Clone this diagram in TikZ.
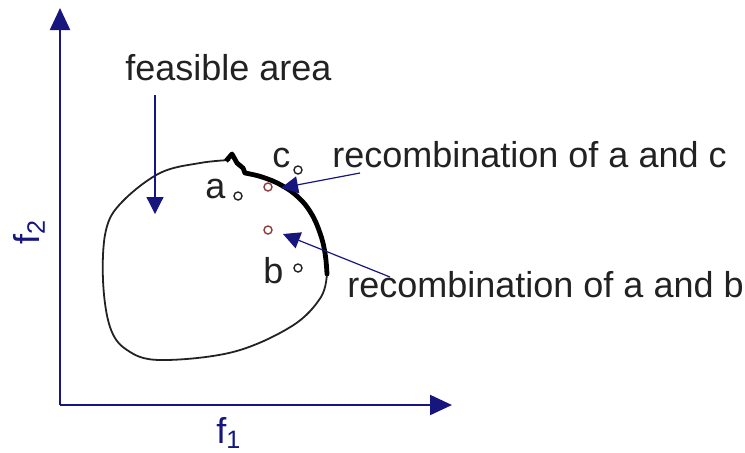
\documentclass[tikz,border=0pt]{standalone}
\usepackage{fontspec}
\setmainfont{Liberation Sans}
\usepackage{xcolor}
\usepackage{tikz}
\usetikzlibrary{arrows.meta,positioning,calc}
\definecolor{axisblue}{HTML}{16167E}
\definecolor{textgrey}{HTML}{222222}
\definecolor{dotred}{HTML}{8E3B3B}

\begin{document}
\begin{tikzpicture}[x=0.5pt,y=-0.5pt,
  lbl/.style={anchor=base west, inner sep=0pt, text=textgrey, font=\fontsize{18}{20}\selectfont},
  sol/.style={circle, draw=textgrey, line width=0.7pt, fill=white, minimum size=4pt, inner sep=0pt},
  rec/.style={circle, draw=dotred, line width=0.7pt, fill=white, minimum size=4pt, inner sep=0pt},
  ptr/.style={axisblue, line width=0.6pt, -{Triangle[width=8.5pt,length=8.5pt]}}]
\useasboundingbox (0,0) rectangle (745,452);
% Axes
\coordinate (origin) at (60,405);
\coordinate (ytip) at (60,8);
\coordinate (xtip) at (452,405);
\draw[axisblue, line width=1.1pt, -{Triangle[width=10pt,length=11pt]}] (origin) -- (ytip);
\draw[axisblue, line width=1.1pt, -{Triangle[width=10pt,length=11pt]}] (origin) -- (xtip);
\node[axisblue, font=\fontsize{18}{20}\selectfont] (fone) at (229,433) {f\textsubscript{1}};
\node[axisblue, font=\fontsize{18}{20}\selectfont, rotate=90] (ftwo) at (29,232) {f\textsubscript{2}};
% Feasible area
\draw[textgrey, line width=0.9pt] plot[smooth, tension=0.6] coordinates {(327,272) (321,297) (292,326) (233,352) (160,360) (127,350) (110,327) (103,280) (106,230) (122,202) (160,173) (200,163) (230,160)};
% Pareto front (bold)
\draw[black, line width=2.4pt, line join=round] (226,161) -- (232,154) -- (237,163) -- (243,168) -- (245,173);
\draw[black, line width=2.4pt, line cap=round] plot[smooth, tension=0.7] coordinates {(245,173) (262,177) (281,185) (298,197) (311,213) (320,233) (325,253) (327,274)};
% Solutions
\node[sol] (pa) at (238,196) {};
\node[sol] (pb) at (298,268) {};
\node[sol] (pc) at (298,170) {};
\node[lbl] (la) at (205,198) {a};
\node[lbl] (lb) at (263,283) {b};
\node[lbl] (lc) at (272,167) {c};
% Offspring
\node[rec] (rac) at (268,187) {};
\node[rec] (rab) at (268,230) {};
% Labels
\node[lbl] (feasible) at (125,80) {feasible area};
\node[lbl] (recac) at (332,167) {recombination of a and c};
\node[lbl] (recab) at (347,297) {recombination of a and b};
% Pointers
\coordinate (fstart) at (155,95);
\coordinate (fend) at (155,214);
\coordinate (acstart) at (360,173);
\coordinate (acend) at (281,188);
\coordinate (abstart) at (390,277);
\coordinate (abend) at (283,234);
\draw[ptr] (fstart) -- (fend);
\draw[ptr] (acstart) -- (acend);
\draw[ptr] (abstart) -- (abend);
\end{tikzpicture}
\end{document}
